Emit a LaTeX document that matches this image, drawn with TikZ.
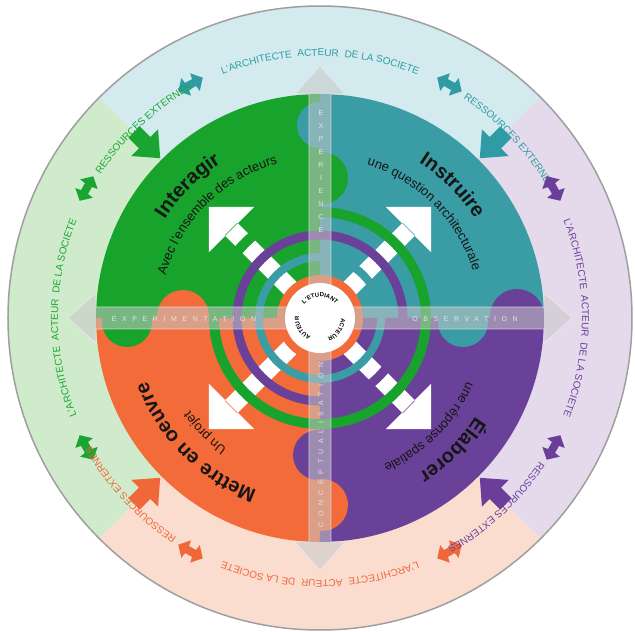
\documentclass[tikz,border=0pt]{standalone}
\usepackage{fontspec}
\setmainfont{Liberation Sans}
\newfontfamily\axisfont[LetterSpace=80]{Liberation Sans}
\usetikzlibrary{decorations.text}

\definecolor{qgreen}{HTML}{18A32C}
\definecolor{qteal}{HTML}{3A9DA6}
\definecolor{qpurple}{HTML}{6A4199}
\definecolor{qorange}{HTML}{F36B38}
\definecolor{bgcyan}{HTML}{D3EAEE}
\definecolor{bgmint}{HTML}{D0EBCB}
\definecolor{bgpeach}{HTML}{FBDDD0}
\definecolor{bglilac}{HTML}{E4DAEC}
\definecolor{txteal}{HTML}{2F9CA5}
\definecolor{txgreen}{HTML}{1AA532}
\definecolor{txorange}{HTML}{F0673A}
\definecolor{txpurple}{HTML}{6B3F99}
\definecolor{axisgray}{HTML}{C8C8C8}
\definecolor{inktext}{HTML}{151515}

\newcommand\ringfont{\fontsize{10}{10}\selectfont}
\newcommand\quadtitle{\fontsize{20}{20}\selectfont\bfseries\color{inktext}}
\newcommand\quadsub{\fontsize{13}{13}\selectfont\color{inktext}}
\newcommand\hubfont{\fontsize{6}{6}\selectfont\bfseries}

\tikzset{
  ringtext/.style 2 args={decorate, decoration={text along path, text align=center, text={|\ringfont\color{#1}|#2}}},
  quadtext/.style={decorate, decoration={text along path, text align=center, text={#1}}},
  axisband/.style={fill=axisgray, fill opacity=0.55, draw=white!85!gray, draw opacity=0.7, line width=0.8},
  axislabel/.style={text=white!80!gray, font=\axisfont\fontsize{7}{13}\selectfont, inner sep=0},
}

\begin{document}
\begin{tikzpicture}[x=1pt, y=1pt]
\useasboundingbox (-320,-314) rectangle (315,318);
\fill[white] (-320,-314) rectangle (315,318);

% outer ring sectors
\foreach \c/\bg in {90/bgcyan, 180/bgmint, 270/bgpeach, 0/bglilac}
  \fill[\bg] (0,0) -- ({\c+45}:312) arc[start angle={\c+45}, end angle={\c-45}, radius=312] -- cycle;
\draw[gray!75, line width=1.5] (0,0) circle[radius=312];

% quadrants
\fill[qteal] (0,0) -- (0:224) arc[start angle=0, end angle=90, radius=224] -- cycle;
\fill[qgreen] (0,0) -- (90:224) arc[start angle=90, end angle=180, radius=224] -- cycle;
\fill[qorange] (0,0) -- (180:224) arc[start angle=180, end angle=270, radius=224] -- cycle;
\fill[qpurple] (0,0) -- (270:224) arc[start angle=270, end angle=360, radius=224] -- cycle;

% puzzle tabs
\fill[qteal] (0,193) circle[radius=23];
\fill[qgreen] (2,140) circle[radius=26];
\fill[qorange] (-137,2) circle[radius=26];
\fill[qgreen] (-193,-4) circle[radius=25];
\fill[qpurple] (197,2) circle[radius=27];
\fill[qteal] (143,-4) circle[radius=25];
\fill[qpurple] (-2,-137) circle[radius=25];
\fill[qorange] (2,-187) circle[radius=26];

% white arrows
\foreach \a in {45,135,225,315}
  \fill[white, rotate=\a] (35,-9) rectangle (126,9) (125,-32) -- (157,0) -- (125,32) -- cycle;

% rings
\draw[qorange, line width=8] (0,0) circle[radius=39];
\draw[qteal, line width=8] (0,0) circle[radius=61];
\draw[qpurple, line width=9] (0,0) circle[radius=83];
\draw[qgreen, line width=10] (0,0) circle[radius=106];

% axes
\path[axisband] (-11,224) -- (-25,224) -- (0,252) -- (25,224) -- (11,224) -- (11,-224) -- (25,-224) -- (0,-252) -- (-25,-224) -- (-11,-224) -- cycle;
\path[axisband] (224,11) -- (224,25) -- (252,0) -- (224,-25) -- (224,-11) -- (-224,-11) -- (-224,-25) -- (-252,0) -- (-224,25) -- (-224,11) -- cycle;
\node[axislabel, align=center] (axtop) at (1,146) {E\\X\\P\\E\\R\\I\\E\\N\\C\\E};
\node[axislabel, rotate=90] (axbottom) at (1,-127) {CONCEPTUALISATION};
\node[axislabel] (axleft) at (-136,-1) {EXPERIMENTATION};
\node[axislabel] (axright) at (145,-1) {OBSERVATION};

% hub
\fill[white] (0,0) circle[radius=35];
\path[quadtext={|\hubfont|L'ETUDIANT}] (150:21) arc[start angle=150, end angle=30, radius=21];
\path[quadtext={|\hubfont|ACTEUR}] (5:21) arc[start angle=5, end angle=-75, radius=21];
\path[quadtext={|\hubfont|AUTEUR}] (250:21) arc[start angle=250, end angle=170, radius=21];

% quadrant labels
\path[quadtext={|\quadtitle|Interagir}] (185:184) arc[start angle=185, end angle=85, radius=184];
\path[quadtext={|\quadsub|Avec l'ensemble des acteurs}] (195:160) arc[start angle=195, end angle=75, radius=160];
\path[quadtext={|\quadtitle|Instruire}] (95:184) arc[start angle=95, end angle=-5, radius=184];
\path[quadtext={|\quadsub|une question architecturale}] (105:160) arc[start angle=105, end angle=-15, radius=160];
\path[quadtext={|\quadtitle|Élaborer}] (5:184) arc[start angle=5, end angle=-95, radius=184];
\path[quadtext={|\quadsub|une réponse spatiale}] (15:160) arc[start angle=15, end angle=-105, radius=160];
\path[quadtext={|\quadtitle|Mettre en oeuvre}] (275:184) arc[start angle=275, end angle=175, radius=184];
\path[quadtext={|\quadsub|Un projet}] (285:160) arc[start angle=285, end angle=165, radius=160];

% outer ring texts, icons and arrows
\foreach \c/\col in {90/txteal, 180/txgreen, 270/txorange, 0/txpurple}{
  \path[ringtext={\col}{L'ARCHITECTE{\ \ }ACTEUR{\ \ }DE LA SOCIETE}] ({\c+40}:262) arc[start angle={\c+40}, end angle={\c-40}, radius=262];
  \path[ringtext={\col}{RESSOURCES EXTERNES}] ({\c-27}:262) arc[start angle={\c-27}, end angle={\c-67}, radius=262];
  \foreach \s in {29,-29}
    \fill[\col, rotate={\c+\s}] (263,-4) -- (257,-5) -- (267,-14) -- (277,-5) -- (271,-4) -- (271,4) -- (277,5) -- (267,14) -- (257,5) -- (263,4) -- cycle;
  \fill[\col, rotate={\c-45}] (226,0) -- (248,19) -- (248,8) -- (263,8) -- (263,-8) -- (248,-8) -- (248,-19) -- cycle;
}
\end{tikzpicture}
\end{document}
